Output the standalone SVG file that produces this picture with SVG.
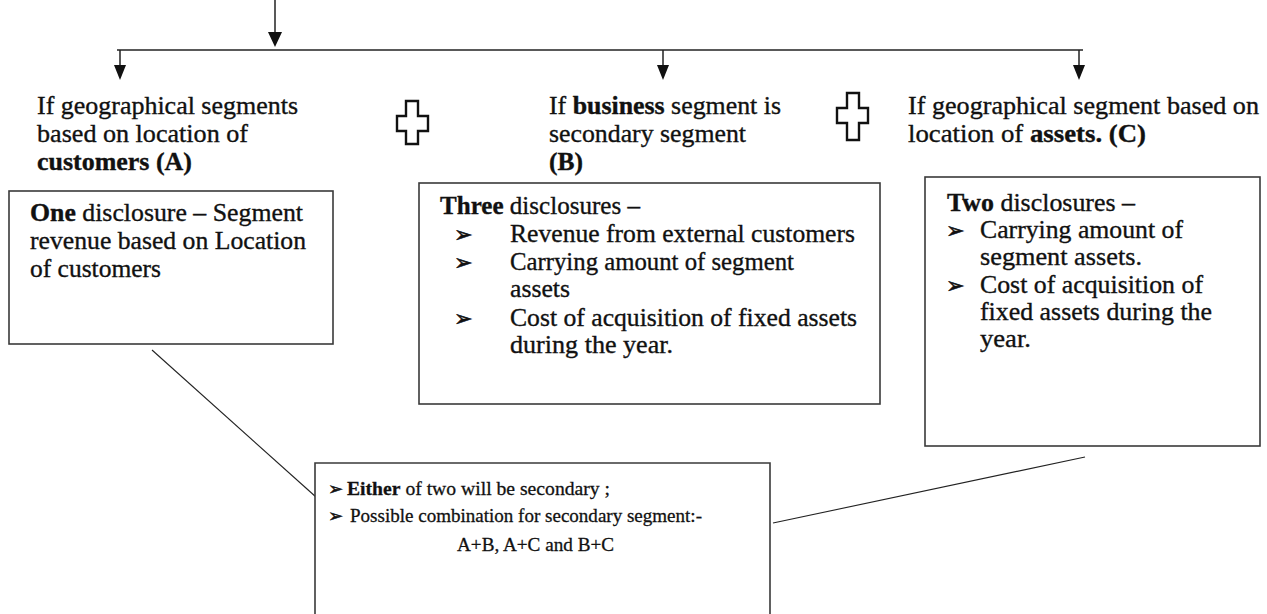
<svg xmlns="http://www.w3.org/2000/svg" width="1267" height="614" viewBox="0 0 1267 614">
  <style>
    text { font-family: "Liberation Serif", "Times New Roman", serif; font-size: 25.7px; fill: #111; stroke: #111; stroke-width: 0.35; }
    .b { font-weight: bold; }
    .sm { font-size: 19.6px; stroke-width: 0.3; }
    .bul { font-family: "DejaVu Sans", sans-serif; font-size: 22px; stroke-width: 0.6; }
    .bul-sm { font-family: "DejaVu Sans", sans-serif; font-size: 18px; stroke-width: 0.5; }
    .box { fill: #fff; stroke: #3a3a3a; stroke-width: 1.6; }
    .wire { fill: none; stroke: #222; stroke-width: 1.5; }
    .thin { fill: none; stroke: #222; stroke-width: 1.1; }
    .head { fill: #111; }
    .plus { fill: #fff; stroke: #111; stroke-width: 2.4; }
  </style>

  <rect width="1267" height="614" fill="#fff"/>

  <!-- connectors: feed arrow, split bar, three drops, two link lines -->
  <g id="connectors">
    <line class="wire" x1="275" y1="0" x2="275" y2="33"/>
    <path class="head" d="M268,32 L282,32 L275,47 Z"/>
    <line class="wire" x1="117" y1="50" x2="1083" y2="50" stroke-width="2.2"/>
    <line class="wire" x1="120" y1="50" x2="120" y2="66"/>
    <path class="head" d="M114,65 L126,65 L120,80 Z"/>
    <line class="wire" x1="663" y1="50" x2="663" y2="66"/>
    <path class="head" d="M657,65 L669,65 L663,80 Z"/>
    <line class="wire" x1="1079" y1="50" x2="1079" y2="66"/>
    <path class="head" d="M1073,65 L1085,65 L1079,80 Z"/>
    <line class="thin" x1="152" y1="350" x2="316" y2="497"/>
    <line class="thin" x1="773" y1="523" x2="1085" y2="457"/>
  </g>

  <!-- heading A -->
  <g id="head-a">
    <text x="37" y="114" textLength="261" lengthAdjust="spacingAndGlyphs">If geographical segments</text>
    <text x="37" y="142" textLength="211" lengthAdjust="spacingAndGlyphs">based on location of</text>
    <text x="37" y="170" class="b" textLength="155" lengthAdjust="spacingAndGlyphs">customers (A)</text>
  </g>

  <!-- plus signs between the headings -->
  <g id="plus-1">
    <path class="plus" d="M406,101 H418 V116 H428 V131 H418 V144 H406 V131 H397 V116 H406 Z"/>
  </g>
  <g id="plus-2">
    <path class="plus" d="M847,93 H859 V108 H868 V123 H859 V140 H847 V123 H837 V108 H847 Z"/>
  </g>

  <!-- heading B -->
  <g id="head-b">
    <text x="549" y="114" textLength="232" lengthAdjust="spacingAndGlyphs">If <tspan class="b">business</tspan> segment is</text>
    <text x="549" y="142" textLength="197" lengthAdjust="spacingAndGlyphs">secondary segment</text>
    <text x="549" y="170" class="b" textLength="34" lengthAdjust="spacingAndGlyphs">(B)</text>
  </g>

  <!-- heading C -->
  <g id="head-c">
    <text x="908" y="114" textLength="351" lengthAdjust="spacingAndGlyphs">If geographical segment based on</text>
    <text x="908" y="142" textLength="238" lengthAdjust="spacingAndGlyphs">location of <tspan class="b">assets. (C)</tspan></text>
  </g>

  <!-- box A -->
  <g id="box-a">
    <rect class="box" x="9" y="191" width="324" height="153"/>
    <text x="30" y="221" textLength="273" lengthAdjust="spacingAndGlyphs"><tspan class="b">One</tspan> disclosure – Segment</text>
    <text x="30" y="249" textLength="276" lengthAdjust="spacingAndGlyphs">revenue based on Location</text>
    <text x="30" y="277" textLength="131" lengthAdjust="spacingAndGlyphs">of customers</text>
  </g>

  <!-- box B -->
  <g id="box-b">
    <rect class="box" x="419" y="183" width="461" height="221"/>
    <text x="440" y="214" textLength="200" lengthAdjust="spacingAndGlyphs"><tspan class="b">Three</tspan> disclosures –</text>
    <text class="bul" x="454" y="242">➢</text>
    <text x="510" y="242" textLength="345" lengthAdjust="spacingAndGlyphs">Revenue from external customers</text>
    <text class="bul" x="454" y="270">➢</text>
    <text x="510" y="270" textLength="284" lengthAdjust="spacingAndGlyphs">Carrying amount of segment</text>
    <text x="510" y="297" textLength="60" lengthAdjust="spacingAndGlyphs">assets</text>
    <text class="bul" x="454" y="326">➢</text>
    <text x="510" y="326" textLength="347" lengthAdjust="spacingAndGlyphs">Cost of acquisition of fixed assets</text>
    <text x="510" y="353" textLength="163" lengthAdjust="spacingAndGlyphs">during the year.</text>
  </g>

  <!-- box C -->
  <g id="box-c">
    <rect class="box" x="925" y="177" width="335" height="269"/>
    <text x="947" y="211" textLength="188" lengthAdjust="spacingAndGlyphs"><tspan class="b">Two</tspan> disclosures –</text>
    <text class="bul" x="946" y="238">➢</text>
    <text x="980" y="238" textLength="203" lengthAdjust="spacingAndGlyphs">Carrying amount of</text>
    <text x="980" y="265" textLength="162" lengthAdjust="spacingAndGlyphs">segment assets.</text>
    <text class="bul" x="946" y="293">➢</text>
    <text x="980" y="293" textLength="223" lengthAdjust="spacingAndGlyphs">Cost of acquisition of</text>
    <text x="980" y="320" textLength="232" lengthAdjust="spacingAndGlyphs">fixed assets during the</text>
    <text x="980" y="347" textLength="51" lengthAdjust="spacingAndGlyphs">year.</text>
  </g>

  <!-- summary box (runs past the bottom edge) -->
  <g id="box-summary">
    <path class="box" d="M315,616 V463 H770 V616"/>
    <text class="bul-sm" x="328" y="495">➢</text>
    <text class="sm" x="347" y="495" textLength="263" lengthAdjust="spacingAndGlyphs"><tspan class="b">Either</tspan> of two will be secondary ;</text>
    <text class="bul-sm" x="328" y="522">➢</text>
    <text class="sm" x="350" y="522" textLength="352" lengthAdjust="spacingAndGlyphs">Possible combination for secondary segment:-</text>
    <text class="sm" x="457" y="551" textLength="157" lengthAdjust="spacingAndGlyphs">A+B, A+C and B+C</text>
  </g>
</svg>
